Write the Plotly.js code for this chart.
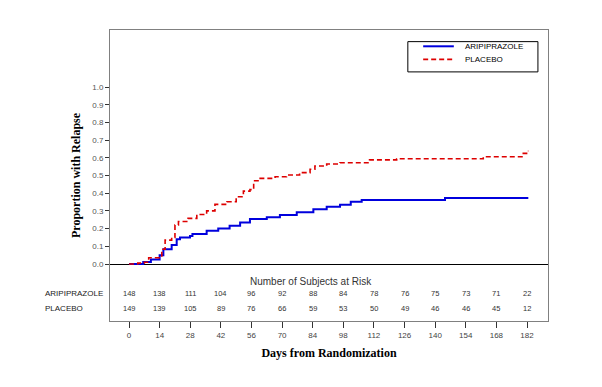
<!DOCTYPE html>
<html>
<head>
<meta charset="utf-8">
<script src="https://cdn.plot.ly/plotly-3.0.1.min.js"></script>
<style>html,body{margin:0;padding:0;background:#fff;}#chart{width:602px;height:387px;}</style>
</head>
<body>
<div id="chart"></div>
<script>
// Kaplan-Meier style cumulative relapse proportions
const ariDays = [0, 6.5, 10, 14, 15.7, 19.5, 21.8, 23.3, 27.9, 29, 35.5, 40.8, 46, 50.8, 55.3, 63, 69, 76.7, 84.3, 90.4, 96.5, 101.4, 106.4, 144.5, 182.6];
const ariProp = [0, 0.012, 0.025, 0.05, 0.083, 0.107, 0.14, 0.15, 0.158, 0.169, 0.188, 0.2, 0.216, 0.235, 0.254, 0.264, 0.277, 0.292, 0.309, 0.324, 0.335, 0.352, 0.362, 0.373, 0.373];
const plaDays = [0, 4, 7, 9, 15, 16.5, 19.5, 21, 22.6, 27, 31, 35.5, 39.3, 44.7, 49, 52.3, 55.3, 57, 59, 66.8, 72, 78, 82.8, 85, 90.4, 96.5, 110, 122.4, 162, 180.3, 182.6];
const plaProp = [0, 0.005, 0.01, 0.035, 0.083, 0.135, 0.15, 0.22, 0.24, 0.258, 0.28, 0.3, 0.337, 0.352, 0.38, 0.412, 0.42, 0.47, 0.484, 0.493, 0.503, 0.516, 0.535, 0.554, 0.565, 0.572, 0.588, 0.595, 0.606, 0.625, 0.64];

const tickDays = [0, 14, 28, 42, 56, 70, 84, 98, 112, 126, 140, 154, 168, 182];
const ariAtRisk = [148, 138, 111, 104, 96, 92, 88, 84, 78, 76, 75, 73, 71, 22];
const plaAtRisk = [149, 139, 105, 89, 76, 66, 59, 53, 50, 49, 46, 46, 45, 12];
const yTicks = [0, 0.1, 0.2, 0.3, 0.4, 0.5, 0.6, 0.7, 0.8, 0.9, 1.0];
const seriesNames = ['ARIPIPRAZOLE', 'PLACEBO'];
const seriesColors = ['#0000dd', '#dd0000'];

const sans = 'Liberation Sans, Arial, sans-serif';
const serif = 'Liberation Serif, DejaVu Serif, serif';

const lineStyles = [
  {shape: 'hv', color: seriesColors[0], width: 2},
  {shape: 'hv', color: seriesColors[1], width: 1.6, dash: '5px,3px'}
];
const traces = [
  {x: ariDays, y: ariProp, name: seriesNames[0], mode: 'lines', line: lineStyles[0], showlegend: false},
  {x: plaDays, y: plaProp, name: seriesNames[1], mode: 'lines', line: lineStyles[1], showlegend: false}
];

const ann = [];
ann.push({x: 83, y: -0.096, xref: 'x', yref: 'y', text: 'Number of Subjects at Risk', showarrow: false,
  font: {family: sans, size: 10, color: '#333'}, xanchor: 'center', yanchor: 'middle'});
[ariAtRisk, plaAtRisk].forEach((row, r) => {
  const yv = r === 0 ? -0.169 : -0.249;
  ann.push({x: -0.153, y: yv, xref: 'paper', yref: 'y', text: seriesNames[r], showarrow: false,
    font: {family: sans, size: 8, color: '#222'}, xanchor: 'left', yanchor: 'middle'});
  row.forEach((v, i) => {
    ann.push({x: tickDays[i], y: yv, xref: 'x', yref: 'y', text: String(v), showarrow: false,
      font: {family: sans, size: 7.5, color: '#333'}, xanchor: 'center', yanchor: 'middle'});
  });
});

// Legend box (drawn in paper coordinates)
const shapes = [
  {type: 'rect', xref: 'paper', yref: 'paper', x0: 0.680, x1: 0.977, y0: 0.856, y1: 0.960,
   line: {color: '#000', width: 1}, fillcolor: '#fff'}
];
const legendY = [0.944, 0.899];
seriesNames.forEach((nm, i) => {
  shapes.push({type: 'line', xref: 'paper', yref: 'paper', x0: 0.715, x1: 0.785, y0: legendY[i], y1: legendY[i],
    line: {color: seriesColors[i], width: lineStyles[i].width, dash: lineStyles[i].dash || 'solid'}});
  ann.push({x: 0.806, y: legendY[i], xref: 'paper', yref: 'paper', text: nm, showarrow: false,
    font: {family: sans, size: 8, color: '#000'}, xanchor: 'left', yanchor: 'middle'});
});

const layout = {
  width: 602, height: 387,
  margin: {l: 110, r: 54, t: 30, b: 66},
  paper_bgcolor: '#fff', plot_bgcolor: '#fff',
  showlegend: false,
  xaxis: {
    range: [-8.7, 191.6], tickvals: tickDays, ticktext: tickDays.map(String),
    ticks: 'outside', ticklen: 6, tickcolor: '#333', showgrid: false, zeroline: false,
    showline: true, mirror: true, linecolor: '#808080', linewidth: 1,
    tickfont: {family: sans, size: 8, color: '#444'},
    title: {text: 'Days from Randomization', font: {family: serif, size: 12, color: '#000', weight: 'bold'}, standoff: 10}
  },
  yaxis: {
    range: [-0.322, 1.322], tickvals: yTicks, ticktext: yTicks.map(v => v.toFixed(1)),
    ticks: 'outside', ticklen: 4, tickcolor: '#333', showgrid: false,
    zeroline: true, zerolinecolor: '#000', zerolinewidth: 1,
    showline: true, mirror: true, linecolor: '#808080', linewidth: 1,
    tickfont: {family: sans, size: 8, color: '#555'},
    title: {text: 'Proportion with Relapse', font: {family: serif, size: 12, color: '#000', weight: 'bold'}, standoff: 9}
  },
  shapes: shapes,
  annotations: ann
};

Plotly.newPlot('chart', traces, layout, {displayModeBar: false, staticPlot: true});
</script>
</body>
</html>
